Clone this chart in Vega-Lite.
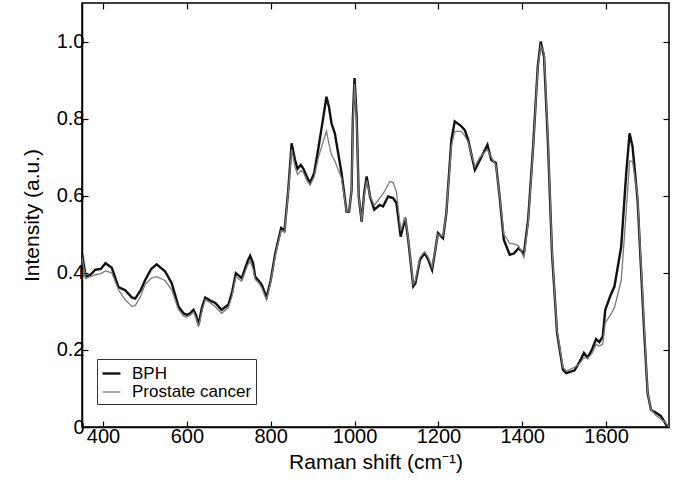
{
  "$schema": "https://vega.github.io/schema/vega-lite/v6.json",
  "width": 587,
  "height": 424,
  "autosize": {"type": "none"},
  "padding": {"left": 82, "top": 3, "right": 4, "bottom": 60},
  "background": "white",
  "config": {
    "view": {"stroke": "black", "strokeWidth": 1.5},
    "axis": {"grid": false, "domainColor": "black", "tickColor": "black", "labelColor": "black", "titleColor": "black", "labelFont": "Liberation Sans", "titleFont": "Liberation Sans", "labelFontSize": 20, "titleFontSize": 21, "titleFontWeight": "normal", "tickSize": -6, "domainWidth": 1.5, "tickWidth": 1.2}
  },
  "datasets": {
    "spectra": [
      {"x":350,"y":0.45,"s":"BPH"},{"x":359,"y":0.39,"s":"BPH"},{"x":370,"y":0.395,"s":"BPH"},{"x":382,"y":0.408,"s":"BPH"},{"x":395,"y":0.41,"s":"BPH"},{"x":406,"y":0.425,"s":"BPH"},{"x":421,"y":0.413,"s":"BPH"},{"x":437,"y":0.363,"s":"BPH"},{"x":453,"y":0.355,"s":"BPH"},{"x":469,"y":0.336,"s":"BPH"},{"x":477,"y":0.333,"s":"BPH"},{"x":490,"y":0.355,"s":"BPH"},{"x":501,"y":0.382,"s":"BPH"},{"x":515,"y":0.41,"s":"BPH"},{"x":528,"y":0.422,"s":"BPH"},{"x":548,"y":0.404,"s":"BPH"},{"x":564,"y":0.373,"s":"BPH"},{"x":580,"y":0.313,"s":"BPH"},{"x":592,"y":0.295,"s":"BPH"},{"x":600,"y":0.291,"s":"BPH"},{"x":608,"y":0.295,"s":"BPH"},{"x":616,"y":0.304,"s":"BPH"},{"x":622,"y":0.29,"s":"BPH"},{"x":628,"y":0.265,"s":"BPH"},{"x":636,"y":0.31,"s":"BPH"},{"x":644,"y":0.336,"s":"BPH"},{"x":656,"y":0.328,"s":"BPH"},{"x":668,"y":0.322,"s":"BPH"},{"x":683,"y":0.304,"s":"BPH"},{"x":699,"y":0.317,"s":"BPH"},{"x":708,"y":0.35,"s":"BPH"},{"x":717,"y":0.399,"s":"BPH"},{"x":731,"y":0.386,"s":"BPH"},{"x":745,"y":0.43,"s":"BPH"},{"x":751,"y":0.444,"s":"BPH"},{"x":758,"y":0.425,"s":"BPH"},{"x":763,"y":0.39,"s":"BPH"},{"x":771,"y":0.38,"s":"BPH"},{"x":779,"y":0.368,"s":"BPH"},{"x":790,"y":0.336,"s":"BPH"},{"x":800,"y":0.38,"s":"BPH"},{"x":811,"y":0.451,"s":"BPH"},{"x":825,"y":0.516,"s":"BPH"},{"x":833,"y":0.51,"s":"BPH"},{"x":842,"y":0.615,"s":"BPH"},{"x":850,"y":0.736,"s":"BPH"},{"x":858,"y":0.693,"s":"BPH"},{"x":864,"y":0.67,"s":"BPH"},{"x":872,"y":0.68,"s":"BPH"},{"x":878,"y":0.67,"s":"BPH"},{"x":886,"y":0.65,"s":"BPH"},{"x":894,"y":0.633,"s":"BPH"},{"x":904,"y":0.66,"s":"BPH"},{"x":914,"y":0.725,"s":"BPH"},{"x":925,"y":0.8,"s":"BPH"},{"x":933,"y":0.857,"s":"BPH"},{"x":939,"y":0.83,"s":"BPH"},{"x":945,"y":0.788,"s":"BPH"},{"x":953,"y":0.762,"s":"BPH"},{"x":969,"y":0.659,"s":"BPH"},{"x":981,"y":0.559,"s":"BPH"},{"x":987,"y":0.559,"s":"BPH"},{"x":993,"y":0.615,"s":"BPH"},{"x":996,"y":0.8,"s":"BPH"},{"x":1000,"y":0.905,"s":"BPH"},{"x":1005,"y":0.806,"s":"BPH"},{"x":1010,"y":0.598,"s":"BPH"},{"x":1017,"y":0.533,"s":"BPH"},{"x":1023,"y":0.607,"s":"BPH"},{"x":1029,"y":0.65,"s":"BPH"},{"x":1037,"y":0.598,"s":"BPH"},{"x":1047,"y":0.564,"s":"BPH"},{"x":1060,"y":0.576,"s":"BPH"},{"x":1068,"y":0.572,"s":"BPH"},{"x":1080,"y":0.598,"s":"BPH"},{"x":1092,"y":0.594,"s":"BPH"},{"x":1100,"y":0.581,"s":"BPH"},{"x":1110,"y":0.494,"s":"BPH"},{"x":1121,"y":0.542,"s":"BPH"},{"x":1128,"y":0.486,"s":"BPH"},{"x":1140,"y":0.365,"s":"BPH"},{"x":1145,"y":0.372,"s":"BPH"},{"x":1156,"y":0.434,"s":"BPH"},{"x":1167,"y":0.451,"s":"BPH"},{"x":1176,"y":0.434,"s":"BPH"},{"x":1185,"y":0.408,"s":"BPH"},{"x":1199,"y":0.503,"s":"BPH"},{"x":1211,"y":0.49,"s":"BPH"},{"x":1219,"y":0.555,"s":"BPH"},{"x":1231,"y":0.745,"s":"BPH"},{"x":1239,"y":0.793,"s":"BPH"},{"x":1255,"y":0.78,"s":"BPH"},{"x":1263,"y":0.77,"s":"BPH"},{"x":1271,"y":0.745,"s":"BPH"},{"x":1287,"y":0.667,"s":"BPH"},{"x":1299,"y":0.693,"s":"BPH"},{"x":1317,"y":0.732,"s":"BPH"},{"x":1326,"y":0.693,"s":"BPH"},{"x":1337,"y":0.685,"s":"BPH"},{"x":1346,"y":0.598,"s":"BPH"},{"x":1356,"y":0.486,"s":"BPH"},{"x":1370,"y":0.447,"s":"BPH"},{"x":1380,"y":0.45,"s":"BPH"},{"x":1391,"y":0.464,"s":"BPH"},{"x":1404,"y":0.45,"s":"BPH"},{"x":1414,"y":0.537,"s":"BPH"},{"x":1426,"y":0.728,"s":"BPH"},{"x":1437,"y":0.935,"s":"BPH"},{"x":1444,"y":1.0,"s":"BPH"},{"x":1452,"y":0.961,"s":"BPH"},{"x":1461,"y":0.745,"s":"BPH"},{"x":1471,"y":0.451,"s":"BPH"},{"x":1483,"y":0.244,"s":"BPH"},{"x":1497,"y":0.149,"s":"BPH"},{"x":1505,"y":0.14,"s":"BPH"},{"x":1525,"y":0.147,"s":"BPH"},{"x":1537,"y":0.17,"s":"BPH"},{"x":1547,"y":0.192,"s":"BPH"},{"x":1556,"y":0.18,"s":"BPH"},{"x":1566,"y":0.2,"s":"BPH"},{"x":1576,"y":0.228,"s":"BPH"},{"x":1584,"y":0.22,"s":"BPH"},{"x":1592,"y":0.235,"s":"BPH"},{"x":1598,"y":0.304,"s":"BPH"},{"x":1610,"y":0.34,"s":"BPH"},{"x":1620,"y":0.365,"s":"BPH"},{"x":1636,"y":0.468,"s":"BPH"},{"x":1648,"y":0.659,"s":"BPH"},{"x":1656,"y":0.762,"s":"BPH"},{"x":1663,"y":0.728,"s":"BPH"},{"x":1675,"y":0.59,"s":"BPH"},{"x":1691,"y":0.244,"s":"BPH"},{"x":1699,"y":0.088,"s":"BPH"},{"x":1707,"y":0.045,"s":"BPH"},{"x":1719,"y":0.037,"s":"BPH"},{"x":1731,"y":0.028,"s":"BPH"},{"x":1743,"y":0.006,"s":"BPH"},{"x":1750,"y":0.0,"s":"BPH"},
      {"x":350,"y":0.44,"s":"Prostate cancer"},{"x":359,"y":0.385,"s":"Prostate cancer"},{"x":370,"y":0.39,"s":"Prostate cancer"},{"x":382,"y":0.395,"s":"Prostate cancer"},{"x":395,"y":0.398,"s":"Prostate cancer"},{"x":406,"y":0.405,"s":"Prostate cancer"},{"x":421,"y":0.4,"s":"Prostate cancer"},{"x":437,"y":0.356,"s":"Prostate cancer"},{"x":453,"y":0.33,"s":"Prostate cancer"},{"x":469,"y":0.313,"s":"Prostate cancer"},{"x":477,"y":0.315,"s":"Prostate cancer"},{"x":490,"y":0.34,"s":"Prostate cancer"},{"x":501,"y":0.37,"s":"Prostate cancer"},{"x":515,"y":0.386,"s":"Prostate cancer"},{"x":528,"y":0.39,"s":"Prostate cancer"},{"x":548,"y":0.38,"s":"Prostate cancer"},{"x":564,"y":0.356,"s":"Prostate cancer"},{"x":580,"y":0.305,"s":"Prostate cancer"},{"x":592,"y":0.288,"s":"Prostate cancer"},{"x":600,"y":0.285,"s":"Prostate cancer"},{"x":608,"y":0.29,"s":"Prostate cancer"},{"x":616,"y":0.298,"s":"Prostate cancer"},{"x":622,"y":0.283,"s":"Prostate cancer"},{"x":628,"y":0.26,"s":"Prostate cancer"},{"x":636,"y":0.3,"s":"Prostate cancer"},{"x":644,"y":0.33,"s":"Prostate cancer"},{"x":656,"y":0.322,"s":"Prostate cancer"},{"x":668,"y":0.312,"s":"Prostate cancer"},{"x":683,"y":0.295,"s":"Prostate cancer"},{"x":699,"y":0.31,"s":"Prostate cancer"},{"x":708,"y":0.34,"s":"Prostate cancer"},{"x":717,"y":0.39,"s":"Prostate cancer"},{"x":731,"y":0.378,"s":"Prostate cancer"},{"x":745,"y":0.42,"s":"Prostate cancer"},{"x":751,"y":0.43,"s":"Prostate cancer"},{"x":758,"y":0.41,"s":"Prostate cancer"},{"x":763,"y":0.383,"s":"Prostate cancer"},{"x":771,"y":0.375,"s":"Prostate cancer"},{"x":779,"y":0.36,"s":"Prostate cancer"},{"x":790,"y":0.33,"s":"Prostate cancer"},{"x":800,"y":0.375,"s":"Prostate cancer"},{"x":811,"y":0.445,"s":"Prostate cancer"},{"x":825,"y":0.51,"s":"Prostate cancer"},{"x":833,"y":0.505,"s":"Prostate cancer"},{"x":842,"y":0.61,"s":"Prostate cancer"},{"x":850,"y":0.72,"s":"Prostate cancer"},{"x":858,"y":0.675,"s":"Prostate cancer"},{"x":864,"y":0.655,"s":"Prostate cancer"},{"x":872,"y":0.665,"s":"Prostate cancer"},{"x":878,"y":0.66,"s":"Prostate cancer"},{"x":886,"y":0.64,"s":"Prostate cancer"},{"x":894,"y":0.628,"s":"Prostate cancer"},{"x":904,"y":0.65,"s":"Prostate cancer"},{"x":914,"y":0.7,"s":"Prostate cancer"},{"x":925,"y":0.74,"s":"Prostate cancer"},{"x":933,"y":0.767,"s":"Prostate cancer"},{"x":939,"y":0.735,"s":"Prostate cancer"},{"x":945,"y":0.706,"s":"Prostate cancer"},{"x":953,"y":0.69,"s":"Prostate cancer"},{"x":969,"y":0.645,"s":"Prostate cancer"},{"x":981,"y":0.56,"s":"Prostate cancer"},{"x":987,"y":0.56,"s":"Prostate cancer"},{"x":993,"y":0.615,"s":"Prostate cancer"},{"x":996,"y":0.78,"s":"Prostate cancer"},{"x":1000,"y":0.89,"s":"Prostate cancer"},{"x":1005,"y":0.79,"s":"Prostate cancer"},{"x":1010,"y":0.6,"s":"Prostate cancer"},{"x":1017,"y":0.535,"s":"Prostate cancer"},{"x":1023,"y":0.6,"s":"Prostate cancer"},{"x":1029,"y":0.64,"s":"Prostate cancer"},{"x":1037,"y":0.6,"s":"Prostate cancer"},{"x":1047,"y":0.575,"s":"Prostate cancer"},{"x":1060,"y":0.594,"s":"Prostate cancer"},{"x":1068,"y":0.605,"s":"Prostate cancer"},{"x":1076,"y":0.62,"s":"Prostate cancer"},{"x":1084,"y":0.637,"s":"Prostate cancer"},{"x":1092,"y":0.634,"s":"Prostate cancer"},{"x":1100,"y":0.61,"s":"Prostate cancer"},{"x":1110,"y":0.51,"s":"Prostate cancer"},{"x":1121,"y":0.545,"s":"Prostate cancer"},{"x":1128,"y":0.49,"s":"Prostate cancer"},{"x":1140,"y":0.37,"s":"Prostate cancer"},{"x":1145,"y":0.38,"s":"Prostate cancer"},{"x":1156,"y":0.44,"s":"Prostate cancer"},{"x":1167,"y":0.455,"s":"Prostate cancer"},{"x":1176,"y":0.44,"s":"Prostate cancer"},{"x":1185,"y":0.415,"s":"Prostate cancer"},{"x":1199,"y":0.5,"s":"Prostate cancer"},{"x":1211,"y":0.495,"s":"Prostate cancer"},{"x":1219,"y":0.555,"s":"Prostate cancer"},{"x":1231,"y":0.73,"s":"Prostate cancer"},{"x":1239,"y":0.767,"s":"Prostate cancer"},{"x":1255,"y":0.767,"s":"Prostate cancer"},{"x":1263,"y":0.755,"s":"Prostate cancer"},{"x":1271,"y":0.74,"s":"Prostate cancer"},{"x":1287,"y":0.675,"s":"Prostate cancer"},{"x":1299,"y":0.7,"s":"Prostate cancer"},{"x":1317,"y":0.72,"s":"Prostate cancer"},{"x":1326,"y":0.7,"s":"Prostate cancer"},{"x":1337,"y":0.68,"s":"Prostate cancer"},{"x":1346,"y":0.6,"s":"Prostate cancer"},{"x":1356,"y":0.5,"s":"Prostate cancer"},{"x":1370,"y":0.477,"s":"Prostate cancer"},{"x":1380,"y":0.475,"s":"Prostate cancer"},{"x":1391,"y":0.47,"s":"Prostate cancer"},{"x":1404,"y":0.44,"s":"Prostate cancer"},{"x":1414,"y":0.53,"s":"Prostate cancer"},{"x":1426,"y":0.72,"s":"Prostate cancer"},{"x":1437,"y":0.93,"s":"Prostate cancer"},{"x":1444,"y":0.99,"s":"Prostate cancer"},{"x":1452,"y":0.97,"s":"Prostate cancer"},{"x":1461,"y":0.76,"s":"Prostate cancer"},{"x":1471,"y":0.46,"s":"Prostate cancer"},{"x":1483,"y":0.25,"s":"Prostate cancer"},{"x":1497,"y":0.155,"s":"Prostate cancer"},{"x":1505,"y":0.145,"s":"Prostate cancer"},{"x":1525,"y":0.155,"s":"Prostate cancer"},{"x":1537,"y":0.165,"s":"Prostate cancer"},{"x":1547,"y":0.18,"s":"Prostate cancer"},{"x":1556,"y":0.178,"s":"Prostate cancer"},{"x":1566,"y":0.19,"s":"Prostate cancer"},{"x":1576,"y":0.215,"s":"Prostate cancer"},{"x":1584,"y":0.21,"s":"Prostate cancer"},{"x":1592,"y":0.215,"s":"Prostate cancer"},{"x":1598,"y":0.27,"s":"Prostate cancer"},{"x":1610,"y":0.29,"s":"Prostate cancer"},{"x":1620,"y":0.31,"s":"Prostate cancer"},{"x":1636,"y":0.38,"s":"Prostate cancer"},{"x":1648,"y":0.56,"s":"Prostate cancer"},{"x":1656,"y":0.69,"s":"Prostate cancer"},{"x":1663,"y":0.69,"s":"Prostate cancer"},{"x":1675,"y":0.6,"s":"Prostate cancer"},{"x":1691,"y":0.26,"s":"Prostate cancer"},{"x":1699,"y":0.09,"s":"Prostate cancer"},{"x":1707,"y":0.045,"s":"Prostate cancer"},{"x":1719,"y":0.03,"s":"Prostate cancer"},{"x":1731,"y":0.02,"s":"Prostate cancer"},{"x":1743,"y":0.01,"s":"Prostate cancer"},{"x":1750,"y":0.0,"s":"Prostate cancer"}
    ]
  },
  "data": {"name": "spectra"},
  "layer": [
    {
      "mark": {"type": "line", "clip": true},
      "encoding": {
        "x": {"field": "x", "type": "quantitative", "scale": {"domain": [350, 1750], "nice": false, "zero": false},
              "axis": {"orient": "bottom", "values": [400, 600, 800, 1000, 1200, 1400, 1600], "format": "d", "title": "Raman shift (cm⁻¹)", "labelPadding": 5, "titlePadding": 5}},
        "y": {"field": "y", "type": "quantitative", "scale": {"domain": [0, 1.1], "nice": false},
              "axis": {"orient": "left", "values": [0, 0.2, 0.4, 0.6, 0.8, 1.0], "labelExpr": "datum.value == 0 ? '0' : format(datum.value, '.1f')", "title": "Intensity (a.u.)", "labelPadding": 4, "titlePadding": 14}},
        "color": {"field": "s", "type": "nominal", "scale": {"domain": ["BPH", "Prostate cancer"], "range": ["#111111", "#7a7a7a"]},
                  "legend": {"title": null, "orient": "none", "legendX": 15, "legendY": 356, "symbolType": "stroke", "symbolSize": 320, "symbolStrokeWidth": 2, "labelFont": "Liberation Sans", "labelFontSize": 17, "labelColor": "black", "strokeColor": "#333333", "padding": 4, "rowPadding": 0, "fillColor": "white", "labelOffset": 10, "offset": 0}},
        "strokeWidth": {"field": "s", "type": "nominal", "scale": {"domain": ["BPH", "Prostate cancer"], "range": [2.4, 1.3]}, "legend": null}
      }
    },
    {
      "mark": {"type": "line", "opacity": 0},
      "encoding": {
        "x": {"field": "x", "type": "quantitative", "axis": {"orient": "top", "values": [400, 600, 800, 1000, 1200, 1400, 1600], "labels": false, "title": null, "domain": false}},
        "y": {"field": "y", "type": "quantitative", "axis": {"orient": "right", "values": [0, 0.2, 0.4, 0.6, 0.8, 1.0], "labels": false, "title": null, "domain": false}}
      }
    }
  ],
  "resolve": {"axis": {"x": "independent", "y": "independent"}}
}
